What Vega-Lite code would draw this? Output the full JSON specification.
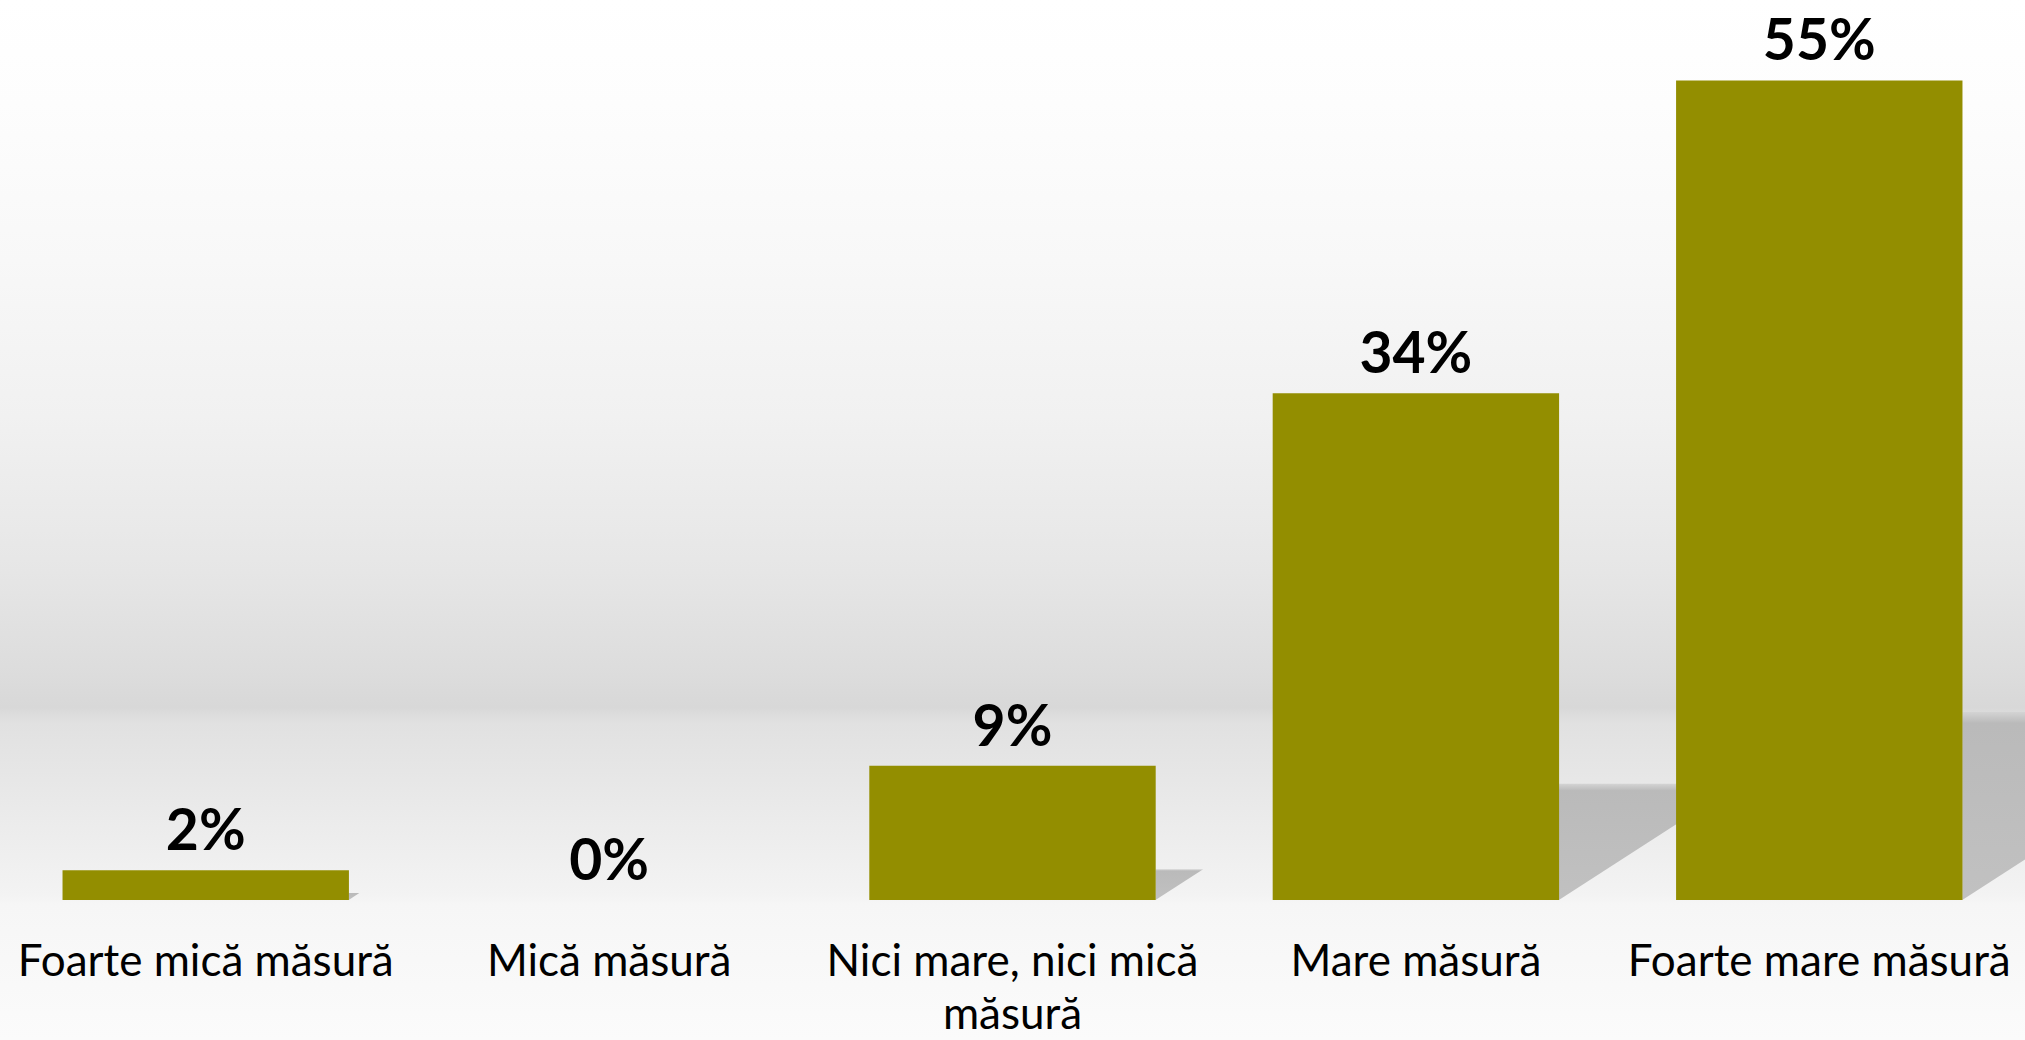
{
  "$schema": "https://vega.github.io/schema/vega-lite/v6.json",
  "width": 2025,
  "height": 1040,
  "autosize": {"type": "none"},
  "padding": 0,
  "background": "#ffffff",
  "config": {
    "view": {
      "stroke": null,
      "fill": {
        "gradient": "linear",
        "x1": 0, "y1": 0, "x2": 0, "y2": 1,
        "stops": [
          {"offset": 0, "color": "#ffffff"},
          {"offset": 0.1, "color": "#fdfdfd"},
          {"offset": 0.25, "color": "#f8f8f8"},
          {"offset": 0.4, "color": "#f1f1f1"},
          {"offset": 0.55, "color": "#e6e6e6"},
          {"offset": 0.65, "color": "#dcdcdc"},
          {"offset": 0.68, "color": "#d8d8d8"},
          {"offset": 0.695, "color": "#e1e1e1"},
          {"offset": 0.75, "color": "#e7e7e7"},
          {"offset": 0.86, "color": "#f3f3f3"},
          {"offset": 0.87, "color": "#f6f6f6"},
          {"offset": 1, "color": "#fbfbfb"}
        ]
      }
    }
  },
  "data": {
    "values": [
      {"categorie": "Foarte mică măsură", "valoare": 0.02},
      {"categorie": "Mică măsură", "valoare": 0.0},
      {"categorie": "Nici mare, nici mică măsură", "valoare": 0.09},
      {"categorie": "Mare măsură", "valoare": 0.34},
      {"categorie": "Foarte mare măsură", "valoare": 0.55}
    ]
  },
  "encoding": {
    "x": {
      "field": "categorie",
      "type": "nominal",
      "sort": null,
      "scale": {"paddingInner": 0.29, "paddingOuter": 0.155},
      "axis": {
        "title": null,
        "orient": "bottom",
        "offset": -140,
        "domain": false,
        "ticks": false,
        "grid": false,
        "labelAngle": 0,
        "labelFont": "Lato",
        "labelFontSize": 44,
        "labelColor": "#000000",
        "labelPadding": 40,
        "labelLineHeight": 53,
        "labelLimit": 0,
        "labelExpr": "datum.label == 'Nici mare, nici mică măsură' ? ['Nici mare, nici mică', 'măsură'] : datum.label"
      }
    }
  },
  "layer": [
    {
      "mark": {
        "type": "point",
        "shape": "M0,0L0,-1L1.55,-1Z",
        "filled": true,
        "xOffset": 143,
        "opacity": 1,
        "color": {
          "gradient": "linear",
          "x1": 0, "y1": 0, "x2": 0, "y2": 1,
          "stops": [
            {"offset": 0, "color": "#d4d4d4"},
            {"offset": 0.06, "color": "#bababa"},
            {"offset": 1, "color": "#c1c1c1"}
          ]
        }
      },
      "encoding": {
        "y": {
          "datum": 0,
          "type": "quantitative",
          "scale": {"domain": [-0.094, 0.604], "nice": false, "zero": false},
          "axis": null
        },
        "size": {
          "field": "valoare",
          "type": "quantitative",
          "scale": {"type": "pow", "exponent": 2, "domain": [0, 0.55], "range": [0, 141376]},
          "legend": null
        }
      }
    },
    {
      "mark": {"type": "bar", "color": "#938e00"},
      "encoding": {
        "y": {
          "field": "valoare",
          "type": "quantitative",
          "scale": {"domain": [-0.094, 0.604], "nice": false, "zero": false},
          "axis": null
        }
      }
    },
    {
      "mark": {
        "type": "text",
        "font": "Lato",
        "fontWeight": "bold",
        "fontSize": 57,
        "baseline": "alphabetic",
        "dy": -20,
        "color": "#000000"
      },
      "encoding": {
        "y": {"field": "valoare", "type": "quantitative"},
        "text": {"field": "valoare", "type": "quantitative", "format": ".0%"}
      }
    }
  ]
}
